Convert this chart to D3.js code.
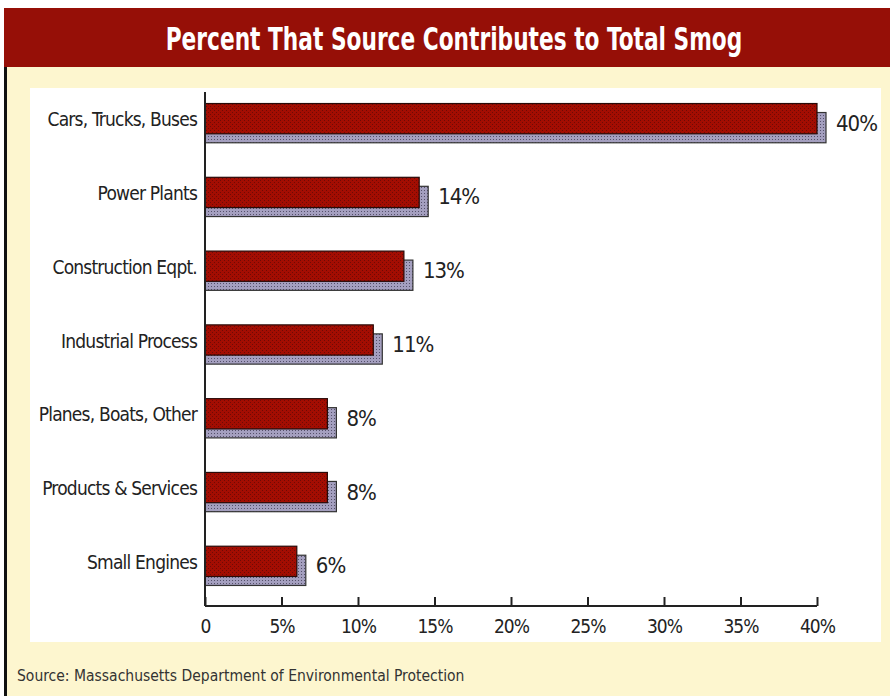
<!DOCTYPE html>
<html>
<head>
<meta charset="utf-8">
<script src="https://cdn.jsdelivr.net/npm/d3@7"></script>
<style>
  body { margin: 0; background: #ffffff; }
  svg { display: block; }
  text { font-stretch: condensed; }
</style>
</head>
<body>
<div id="wrapper"></div>
<script>
const categories = ["Cars, Trucks, Buses", "Power Plants", "Construction Eqpt.", "Industrial Process",
    "Planes, Boats, Other", "Products & Services", "Small Engines"]
const percents = [40, 14, 13, 11, 8, 8, 6]
const tickValues = [0, 5, 10, 15, 20, 25, 30, 35, 40]
const tickLabels = ["0", "5%", "10%", "15%", "20%", "25%", "30%", "35%", "40%"]
const titleText = "Percent That Source Contributes to Total Smog"
const sourceText = "Source: Massachusetts Department of Environmental Protection"

const narrow = "'DejaVu Sans', sans-serif"

function drawChart() {
    const width = 890, height = 696
    const svg = d3.select("#wrapper").append("svg")
        .attr("width", width)
        .attr("height", height)

    // textures for the bars
    const defs = svg.append("defs")
    const redPat = defs.append("pattern")
        .attr("id", "redDots").attr("width", 4).attr("height", 4)
        .attr("patternUnits", "userSpaceOnUse")
    redPat.append("rect").attr("width", 4).attr("height", 4).attr("fill", "#a30d02")
    redPat.append("rect").attr("x", 0).attr("y", 0).attr("width", 1).attr("height", 1).attr("fill", "#6e0a05")
    redPat.append("rect").attr("x", 2).attr("y", 2).attr("width", 1).attr("height", 1).attr("fill", "#6e0a05")
    const greyPat = defs.append("pattern")
        .attr("id", "greyDots").attr("width", 3).attr("height", 3)
        .attr("patternUnits", "userSpaceOnUse")
    greyPat.append("rect").attr("width", 3).attr("height", 3).attr("fill", "#a49fbf")
    greyPat.append("rect").attr("x", 1).attr("y", 1).attr("width", 1).attr("height", 1).attr("fill", "#55506a")

    // frame
    svg.append("rect").attr("x", 4).attr("y", 67).attr("width", width - 4).attr("height", height - 67)
        .attr("fill", "#fdf6cf")
    svg.append("rect").attr("x", 4).attr("y", 67).attr("width", 3).attr("height", height - 67)
        .attr("fill", "#111")
    svg.append("rect").attr("x", 4).attr("y", 8).attr("width", width - 4).attr("height", 59)
        .attr("fill", "#960f07")
    const titleG = svg.append("g")
    const title = titleG.append("text")
        .attr("text-anchor", "middle")
        .attr("font-family", narrow)
        .attr("font-size", "32px")
        .attr("font-weight", "bold")
        .attr("fill", "#ffffff")
        .text(titleText)
    const sx = Math.min(1, 577 / title.node().getComputedTextLength())
    titleG.attr("transform", `translate(454, 50) scale(${sx}, 1)`)

    // white chart panel
    svg.append("rect").attr("x", 30).attr("y", 88).attr("width", 851).attr("height", 554)
        .attr("fill", "#ffffff")

    const axisY = 606
    const xScale = d3.scaleLinear().domain([0, 40]).range([205, 817])
    const yScale = d3.scaleBand().domain(categories).range([60, 620]).padding(0.59)

    const bars = svg.append("g")
    const shadowDx = 9, shadowDy = 9
    bars.selectAll("rect.shadow")
        .data(categories)
        .join("rect")
        .attr("class", "shadow")
        .attr("x", xScale(0))
        .attr("y", d => yScale(d) + shadowDy)
        .attr("width", (d, i) => xScale(percents[i]) - xScale(0) + shadowDx)
        .attr("height", yScale.bandwidth())
        .attr("fill", "url(#greyDots)")
        .attr("stroke", "#333")
        .attr("stroke-width", 1.2)
    bars.selectAll("rect.bar")
        .data(categories)
        .join("rect")
        .attr("class", "bar")
        .attr("x", xScale(0))
        .attr("y", d => yScale(d))
        .attr("width", (d, i) => xScale(percents[i]) - xScale(0))
        .attr("height", yScale.bandwidth())
        .attr("fill", "url(#redDots)")
        .attr("stroke", "#2a0a08")
        .attr("stroke-width", 1.2)

    // value labels
    svg.append("g").selectAll("text")
        .data(categories)
        .join("text")
        .attr("x", (d, i) => xScale(percents[i]) + shadowDx + 10)
        .attr("y", d => yScale(d) + yScale.bandwidth() / 2 + 6)
        .attr("dominant-baseline", "middle")
        .attr("font-family", narrow)
        .attr("font-size", "22px")
        .attr("letter-spacing", "-1px")
        .attr("fill", "#222")
        .text((d, i) => percents[i] + "%")

    // category labels
    svg.append("g").selectAll("text")
        .data(categories)
        .join("text")
        .attr("x", 197)
        .attr("y", d => yScale(d) + yScale.bandwidth() / 2 + 2)
        .attr("dominant-baseline", "middle")
        .attr("text-anchor", "end")
        .attr("font-family", narrow)
        .attr("font-size", "19px")
        .attr("letter-spacing", "-0.8px")
        .attr("fill", "#222")
        .text(d => d)

    // y axis line
    svg.append("line")
        .attr("x1", xScale(0)).attr("x2", xScale(0))
        .attr("y1", 92).attr("y2", axisY)
        .attr("stroke", "#222").attr("stroke-width", 2)

    // x axis
    const xAxis = svg.append("g")
        .attr("transform", `translate(0, ${axisY})`)
        .call(d3.axisBottom(xScale).tickValues(tickValues).tickSize(-9).tickPadding(14)
            .tickFormat((d, i) => tickLabels[i]))
    xAxis.select(".domain").attr("stroke", "#222").attr("stroke-width", 2)
        .attr("d", `M${xScale(0)},0H${xScale(40)}`)
    xAxis.selectAll(".tick line").attr("stroke", "#222").attr("stroke-width", 2)
    xAxis.selectAll(".tick text")
        .attr("font-family", narrow)
        .attr("font-size", "19px")
        .attr("letter-spacing", "-1px")
        .attr("fill", "#222")

    // source
    svg.append("text")
        .attr("x", 17).attr("y", 681)
        .attr("font-family", narrow)
        .attr("font-size", "15.5px")
        .attr("fill", "#333")
        .text(sourceText)
}

drawChart()
</script>
</body>
</html>
